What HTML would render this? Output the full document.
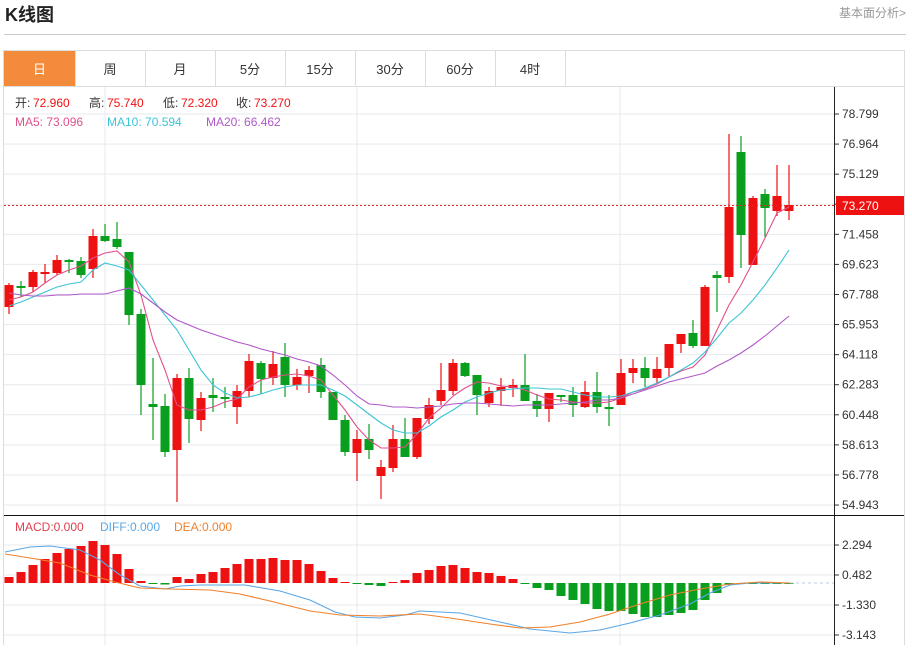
<!DOCTYPE html>
<html><head><meta charset="utf-8"><style>
body{margin:0;width:912px;height:645px;overflow:hidden;background:#fff;font-family:"Liberation Sans","Noto Sans CJK SC",sans-serif}
</style></head><body>
<svg id="s" width="912" height="645" xmlns="http://www.w3.org/2000/svg" font-family="Liberation Sans, Noto Sans CJK SC, sans-serif">
<text x="5" y="21" font-size="18" font-weight="bold" fill="#222">K线图</text>
<text x="906" y="17" font-size="12" fill="#999" text-anchor="end">基本面分析&gt;</text>
<line x1="4" y1="34.5" x2="906" y2="34.5" stroke="#ccc"/>
<rect x="3.5" y="50.5" width="901" height="600" fill="none" stroke="#ddd"/>
<line x1="4" y1="86.5" x2="904" y2="86.5" stroke="#ddd"/>
<rect x="4" y="51" width="71" height="35" fill="#f28c3c"/>
<g id="tabs" font-size="13" fill="#333" text-anchor="middle"></g>
<g id="g"></g>
</svg>
<script>
const S=document.getElementById('s'),G=document.getElementById('g'),T=document.getElementById('tabs');
function el(t,a,p){const e=document.createElementNS('http://www.w3.org/2000/svg',t);for(const k in a)e.setAttribute(k,a[k]);(p||G).appendChild(e);return e;}
const tb=[4,75,145,215,285,355,425,495,565],names=['日','周','月','5分','15分','30分','60分','4时'];
for(let i=0;i<8;i++){const t=el('text',{x:(tb[i]+tb[i+1])/2,y:74,fill:i==0?'#fff':'#333'},T);t.textContent=names[i];el('line',{x1:tb[i+1]+.5,y1:51,x2:tb[i+1]+.5,y2:86,stroke:'#ddd'});}
const lab=['78.799','76.964','75.129','73.294','71.458','69.623','67.788','65.953','64.118','62.283','60.448','58.613','56.778','54.943'];
for(let i=0;i<14;i++){const y=114+i*30.08;el('line',{x1:4,y1:y,x2:834,y2:y,stroke:'#e6e9ee'});el('line',{x1:834,y1:y,x2:839,y2:y,stroke:'#333'});if(i!=3){const t=el('text',{x:842,y:y+4,'font-size':12,fill:'#333'});t.textContent=lab[i];}}
[105,357,620].forEach(x=>el('line',{x1:x,y1:87,x2:x,y2:645,stroke:'#e6e9ee'}));
const mt=[[545,'2.294'],[575,'0.482'],[605,'-1.330'],[635,'-3.143']];
mt.forEach(m=>{el('line',{x1:4,y1:m[0],x2:834,y2:m[0],stroke:'#e6e9ee'});el('line',{x1:834,y1:m[0],x2:839,y2:m[0],stroke:'#333'});const t=el('text',{x:842,y:m[0]+4,'font-size':12,fill:'#333'});t.textContent=m[1];});
el('line',{x1:834.5,y1:87,x2:834.5,y2:645,stroke:'#222'});
el('line',{x1:4,y1:515.5,x2:904,y2:515.5,stroke:'#111'});
const C=[['R',285,307,283,314],['G',286,288,281,297],['R',272,287,270,292],['R',272,274,264,283],['R',260,273,255,275],['G',260,262,259,273],['G',261,275,257,278],['R',236,269,229,278],['G',236,241,224,242],['G',239,247,222,249],['G',252,315,252,325],['G',314,385,309,415],['G',404,407,358,440],['G',406,452,394,457],['R',378,450,374,502],['G',378,419,368,443],['R',398,420,392,431],['G',395,398,378,412],['G',397,399,387,408],['R',391,407,385,424],['R',361,391,354,397],['G',363,379,361,394],['R',364,378,351,385],['G',357,385,343,397],['R',377,385,369,390],['R',370,376,366,393],['G',365,392,358,398],['G',392,420,392,420],['G',420,452,415,456],['R',439,453,430,481],['G',439,450,424,459],['R',467,476,460,499],['R',439,468,425,472],['G',439,457,418,457],['R',418,457,418,459],['R',405,419,398,424],['R',390,401,363,405],['R',363,391,359,395],['G',363,376,362,377],['G',375,395,375,415],['R',391,403,387,407],['R',387,391,378,406],['R',385,388,379,397],['G',385,401,354,401],['G',401,409,394,417],['R',393,409,393,422],['G',395,397,395,402],['G',395,405,387,417],['R',392,407,381,408],['G',392,407,372,413],['G',407,409,395,426],['R',373,405,359,405],['R',368,373,359,383],['G',368,378,357,387],['R',369,378,357,383],['R',344,368,344,377],['R',334,344,334,353],['G',333,346,320,348],['R',287,346,285,346],['G',275,278,271,312],['R',207,277,134,283],['G',152,235,136,268],['R',198,265,196,265],['G',194,208,189,237],['R',196,211,165,216],['R',205,211,165,220]];
C.forEach((c,i)=>{const x=9+12*i,col=c[0]=='R'?'#ee1111':'#0a9e1e';el('line',{x1:x,y1:c[3],x2:x,y2:c[4],stroke:col,'stroke-width':1.2});el('rect',{x:x-4.5,y:c[1],width:9,height:Math.max(2,c[2]-c[1]),fill:col});});
function pl2(pts,col){el('polyline',{points:pts.map((v,i)=>(9+12*i)+','+v).join(' '),fill:'none',stroke:col,'stroke-width':1.1});}
pl2([300,297,292,283,275,270,266,258,253,251,262,295,340,370,405,410,410,407,402,399,387,380,377,375,374,376,380,395,410,427,440,448,448,447,434,418,408,396,388,382,383,386,387,390,395,399,400,402,403,403,402,398,392,389,384,377,371,367,355,330,305,285,262,238,213,207],'#e0508c');
pl2([306,302,297,292,287,284,282,270,263,266,270,285,300,315,330,350,370,385,393,398,397,394,390,387,385,385,385,390,396,405,414,423,430,433,433,426,417,410,402,397,393,390,389,388,388,389,389,392,395,397,397,396,392,388,383,377,370,363,352,338,323,313,300,285,268,250],'#3cc4d6');
pl2([293,295,296,296,295,295,294,294,294,291,288,294,303,312,320,325,330,334,338,342,345,349,352,355,359,362,366,375,385,396,404,405,407,407,408,407,406,404,403,403,404,405,406,405,405,405,404,403,402,400,400,398,394,390,386,382,379,376,373,366,360,353,345,336,326,316],'#b058c8');
el('line',{x1:4,y1:205.5,x2:834,y2:205.5,stroke:'#e22','stroke-dasharray':'2,2'});
el('rect',{x:836,y:196,width:68,height:19,fill:'#ee1111'});
let t=el('text',{x:842,y:210,'font-size':12,fill:'#fff'});t.textContent='73.270';
const M=[577,572,565,559,553,549,546,541,545,554,569,581,584,584.5,577,579,574,572,568,564,559,559,558,560,560,564,571,578,582,584,585,586,582,580,573,570,566,565,568,572,573,576,579,584,588,590,596,600,604,609,611,611,614,617,617,615,613,610,600,593,585,584,583,583,583,583];
M.forEach((v,i)=>{const x=9+12*i;const col=v<583?'#ee1111':'#0a9e1e';const y=Math.min(v,583),h=Math.max(1,Math.abs(v-583));el('rect',{x:x-4.5,y:y,width:9,height:h,fill:col});});
el('line',{x1:790,y1:583,x2:834,y2:583,stroke:'#bcd','stroke-dasharray':'3,3'});
function pts(a){return a.map(p=>p.join(',')).join(' ');}
el('polyline',{points:pts([[5,552],[30,547],[50,546],[80,550],[100,560],[120,575],[140,586],[165,589],[180,586],[200,585],[245,585],[280,591],[310,600],[335,612],[355,617],[380,618],[405,615],[420,611],[440,612],[460,613],[500,622],[530,629],[570,633],[600,630],[630,623],[660,615],[690,604],[710,593],[730,585],[750,583],[790,583]]),fill:'none',stroke:'#5aa6e6','stroke-width':1.1});
el('polyline',{points:pts([[5,554],[30,558],[60,563],[90,575],[115,582],[140,588],[170,589],[210,590],[240,594],[270,601],[310,611],[340,615],[380,616],[420,614],[450,618],[490,624],[520,628],[550,627],[580,622],[610,614],[640,604],[670,595],[700,589],[730,584],[760,582],[790,583]]),fill:'none',stroke:'#f0802a','stroke-width':1.1});
function tx(x,y,s,c){const e=el('text',{x:x,y:y,'font-size':12,fill:c});e.textContent=s;}
tx(15,107,'开:','#333');tx(33,107,'72.960','#ee1111');tx(89,107,'高:','#333');tx(107,107,'75.740','#ee1111');tx(163,107,'低:','#333');tx(181,107,'72.320','#ee1111');tx(236,107,'收:','#333');tx(254,107,'73.270','#ee1111');
tx(15,126,'MA5: 73.096','#e0508c');tx(107,126,'MA10: 70.594','#3cc4d6');tx(206,126,'MA20: 66.462','#b058c8');
tx(15,531,'MACD:0.000','#e04050');tx(100,531,'DIFF:0.000','#5aa6e6');tx(174,531,'DEA:0.000','#f0802a');
</script>
</body></html>
